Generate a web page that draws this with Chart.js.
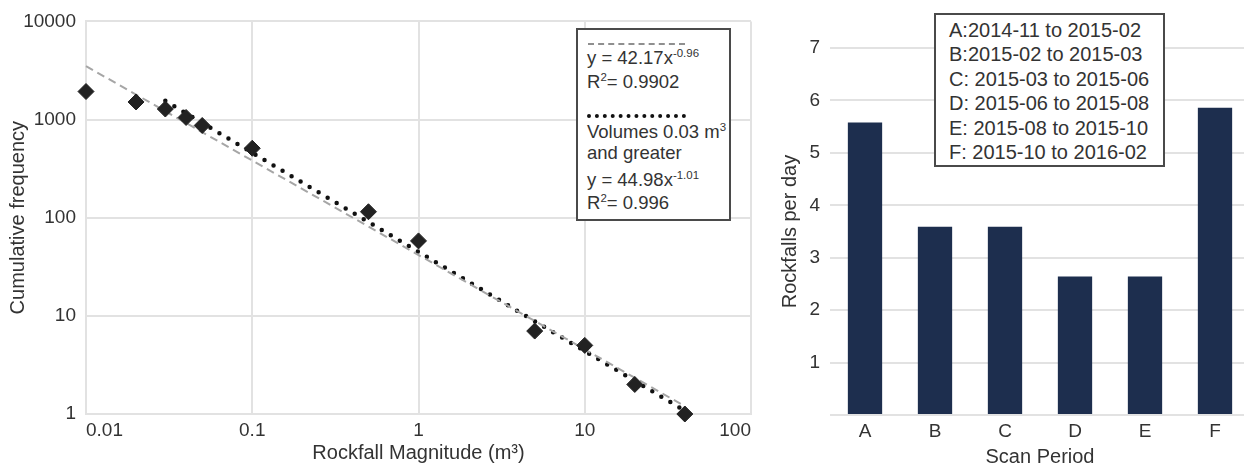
<!DOCTYPE html>
<html>
<head>
<meta charset="utf-8">
<script src="https://cdn.jsdelivr.net/npm/chart.js@4.4.0/dist/chart.umd.min.js"></script>
<style>
  html, body { margin: 0; padding: 0; background: #fff; overflow: hidden; width: 1244px; height: 474px; }
  .wrap { position: absolute; top: 0; height: 474px; }
  #leftWrap { left: 0; width: 770px; }
  #rightWrap { left: 760px; width: 490px; }
  .box { position: absolute; background: #fff; border: 2px solid #4a4a4a; box-sizing: border-box;
         font-family: "Liberation Sans", Arial, sans-serif; color: #333; z-index: 5; }
  .box div { position: absolute; white-space: nowrap; }
  .box sup { font-size: 0.62em; line-height: 0; vertical-align: 0.6em; }
  #fitBox { left: 576px; top: 28px; width: 155px; height: 193px; font-size: 18.5px; }
  #periodBox { left: 934px; top: 13px; width: 231px; height: 154px; font-size: 20px; }
  .dash { height: 0; border-top: 2px dashed #8f8f8f; }
  .dots { height: 0; border-top: 4px dotted #111; }
</style>
</head>
<body>
<div class="wrap" id="leftWrap"><canvas id="freqChart"></canvas></div>
<div class="wrap" id="rightWrap"><canvas id="rateChart"></canvas></div>
<div class="box" id="fitBox"></div>
<div class="box" id="periodBox"></div>
<script>
// Left chart: cumulative frequency of rockfalls by magnitude (log-log)
const magnitudes = [0.01, 0.02, 0.03, 0.04, 0.05, 0.1, 0.5, 1, 5, 10, 20, 40];
const cumulativeFreq = [1930, 1510, 1280, 1050, 870, 510, 115, 58, 7, 5, 2, 1];

// Power-law fit lines, end points
const fitAllX = [0.01, 40];
const fitAllY = [3500, 1.2];
const fitLargeX = [0.03, 40];
const fitLargeY = [1550, 1.08];

const magnitudeTicks = [0.01, 0.1, 1, 10, 100];
const frequencyTicks = [1, 10, 100, 1000, 10000];

const fitAllText = ['y = 42.17x<sup>-0.96</sup>', 'R<sup>2</sup>= 0.9902'];
const fitLargeText = ['Volumes 0.03 m<sup>3</sup>', 'and greater', 'y = 44.98x<sup>-1.01</sup>', 'R<sup>2</sup>= 0.996'];

// Right chart: rockfalls per day by scan period
const scanPeriods = ['A', 'B', 'C', 'D', 'E', 'F'];
const rockfallsPerDay = [5.58, 3.59, 3.59, 2.64, 2.64, 5.86];
const periodRanges = [
  'A:2014-11 to 2015-02',
  'B:2015-02 to 2015-03',
  'C: 2015-03 to 2015-06',
  'D: 2015-06 to 2015-08',
  'E: 2015-08 to 2015-10',
  'F: 2015-10 to 2016-02',
];

const FONT = '"Liberation Sans", Arial, sans-serif';
const TEXT = '#333';
const GRID = '#e2e2e2';

function points(xs, ys) {
  return xs.map((x, i) => ({ x, y: ys[i] }));
}

// Text box for the fit equations
function renderFitBox() {
  const box = document.getElementById('fitBox');
  const rows = [
    { cls: 'dash', top: 13, left: 10, width: 97 },
    { html: fitAllText[0], mid: 30 },
    { html: fitAllText[1], mid: 54 },
    { cls: 'dots', top: 84, left: 9, width: 99 },
    { html: fitLargeText[0], mid: 104 },
    { html: fitLargeText[1], mid: 125 },
    { html: fitLargeText[2], mid: 152 },
    { html: fitLargeText[3], mid: 175 },
  ];
  rows.forEach((r) => {
    const d = document.createElement('div');
    if (r.cls) {
      d.className = r.cls;
      d.style.top = r.top + 'px';
      d.style.left = r.left + 'px';
      d.style.width = r.width + 'px';
    } else {
      d.innerHTML = r.html;
      d.style.left = '9px';
      d.style.top = (r.mid - 2 - 11) + 'px';
      d.style.lineHeight = '22px';
    }
    box.appendChild(d);
  });
}

// Text box listing the scan periods
function renderPeriodBox() {
  const box = document.getElementById('periodBox');
  periodRanges.forEach((txt, i) => {
    const d = document.createElement('div');
    d.textContent = txt;
    d.style.left = '13px';
    d.style.lineHeight = '24px';
    d.style.top = (17 + i * 24.4 - 2 - 12) + 'px';
    box.appendChild(d);
  });
}

function renderFreqChart() {
  const ctx = document.getElementById('freqChart').getContext('2d');
  new Chart(ctx, {
    type: 'scatter',
    data: {
      datasets: [
        {
          data: points(magnitudes, cumulativeFreq),
          pointStyle: 'rectRot',
          pointRadius: 8,
          pointBorderWidth: 1,
          backgroundColor: '#222',
          borderColor: '#222',
          clip: false,
        },
        {
          data: points(fitAllX, fitAllY),
          showLine: true,
          pointRadius: 0,
          borderColor: '#a6a6a6',
          borderWidth: 2,
          borderDash: [8, 5],
          clip: false,
        },
        {
          data: points(fitLargeX, fitLargeY),
          showLine: true,
          pointRadius: 0,
          borderColor: '#111',
          borderWidth: 4.5,
          borderDash: [0, 10.5],
          borderCapStyle: 'round',
          clip: false,
        },
      ],
    },
    options: {
      responsive: true,
      maintainAspectRatio: false,
      animation: false,
      layout: { padding: { top: 16, right: 19, left: 0, bottom: 0 } },
      plugins: { legend: { display: false }, tooltip: { enabled: false } },
      scales: {
        x: {
          type: 'logarithmic',
          min: 0.01,
          max: 100,
          afterBuildTicks: (s) => { s.ticks = magnitudeTicks.map((v) => ({ value: v })); },
          afterFit: (s) => { s.height = 60; },
          ticks: {
            align: 'inner', padding: 5, color: TEXT, maxRotation: 0, autoSkip: false,
            font: { family: FONT, size: 19 },
            callback: (v) => String(v),
          },
          grid: { color: GRID, lineWidth: 2, drawTicks: false },
          border: { color: GRID, width: 2 },
          title: {
            display: true, text: 'Rockfall Magnitude (m³)', color: TEXT,
            font: { family: FONT, size: 20 }, padding: { top: 0, bottom: 9 },
          },
        },
        y: {
          type: 'logarithmic',
          min: 1,
          max: 10000,
          afterBuildTicks: (s) => { s.ticks = frequencyTicks.map((v) => ({ value: v })); },
          afterFit: (s) => { s.width = 86; },
          ticks: {
            padding: 10, color: TEXT, autoSkip: false,
            font: { family: FONT, size: 19 },
            callback: (v) => String(v),
          },
          grid: { color: GRID, lineWidth: 2, drawTicks: false },
          border: { color: GRID, width: 2 },
          title: {
            display: true, text: 'Cumulative frequency', color: TEXT,
            font: { family: FONT, size: 20 }, padding: { top: 6, bottom: 0 },
          },
        },
      },
    },
  });
}

function renderRateChart() {
  const ctx = document.getElementById('rateChart').getContext('2d');
  new Chart(ctx, {
    type: 'bar',
    data: {
      labels: scanPeriods,
      datasets: [
        {
          data: rockfallsPerDay,
          backgroundColor: '#1d2e4e',
          categoryPercentage: 1,
          barPercentage: 0.49,
        },
      ],
    },
    options: {
      responsive: true,
      maintainAspectRatio: false,
      animation: false,
      layout: { padding: { top: 48, right: 0, left: 0, bottom: 0 } },
      plugins: { legend: { display: false }, tooltip: { enabled: false } },
      scales: {
        x: {
          afterFit: (s) => { s.height = 59; },
          grid: { display: false, drawTicks: false },
          border: { display: false },
          ticks: { padding: 5, color: TEXT, font: { family: FONT, size: 19 } },
          title: {
            display: true, text: 'Scan Period', color: TEXT,
            font: { family: FONT, size: 20 }, padding: { top: 0, bottom: 5 },
          },
        },
        y: {
          min: 0,
          max: 7,
          afterFit: (s) => { s.width = 70; },
          grid: { color: GRID, lineWidth: 2, drawTicks: false },
          border: { display: false },
          ticks: {
            stepSize: 1, padding: 10, color: TEXT, font: { family: FONT, size: 19 },
            callback: (v) => (v === 0 ? '' : String(v)),
          },
          title: {
            display: true, text: 'Rockfalls per day', color: TEXT,
            font: { family: FONT, size: 20 }, padding: { top: 18, bottom: 0 },
          },
        },
      },
    },
  });
}

renderFitBox();
renderPeriodBox();
renderFreqChart();
renderRateChart();
</script>
</body>
</html>
